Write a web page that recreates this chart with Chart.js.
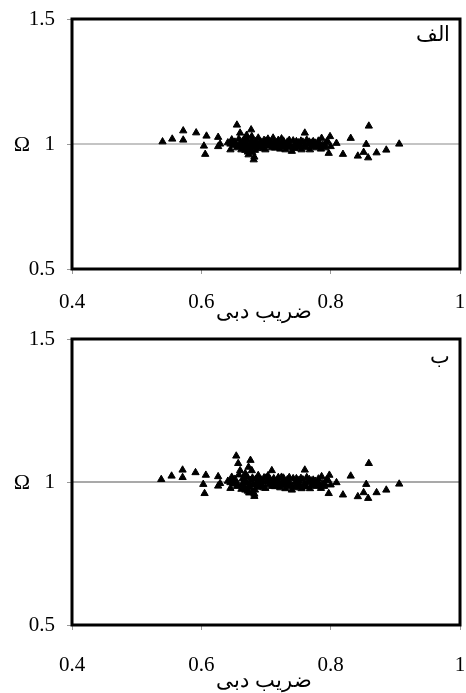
<!DOCTYPE html>
<html>
<head>
<meta charset="utf-8">
<script src="https://cdn.jsdelivr.net/npm/chart.js@4.4.1/dist/chart.umd.min.js"></script>
<style>
  html, body { margin: 0; padding: 0; background: #fff; }
  #wrap { position: relative; width: 466px; height: 693px; overflow: hidden; }
  .box { position: absolute; left: 0; width: 466px; }
</style>
</head>
<body>
<div id="wrap">
  <div class="box" style="top:0;height:330px"><canvas id="chartA" width="466" height="330"></canvas></div>
  <div class="box" style="top:330px;height:363px"><canvas id="chartB" width="466" height="363"></canvas></div>
</div>
<script>
const $ = (id) => document.getElementById(id);

// axis ranges / ticks
const xTicks = [0.4, 0.6, 0.8, 1];
const yTicks = [0.5, 1, 1.5];
const refLineX = [0.4, 1];
const refLineY = 1;

const xTitle = "ضریب دبی";
const yTitle = "Ω";

// panel A (الف)
const xA = [0.540, 0.555, 0.572, 0.572, 0.592, 0.608, 0.604, 0.606, 0.626, 0.626, 0.629,
  0.641, 0.645, 0.645, 0.647, 0.650, 0.652, 0.655, 0.655, 0.657, 0.660, 0.660, 0.662, 0.664, 0.665,
  0.666, 0.668, 0.668, 0.670, 0.670, 0.672, 0.673, 0.675, 0.675, 0.676, 0.677, 0.678, 0.679, 0.680,
  0.681, 0.682, 0.684, 0.685, 0.686, 0.688, 0.690, 0.692, 0.694, 0.695, 0.697, 0.699, 0.701, 0.704,
  0.706, 0.709, 0.711, 0.713, 0.714, 0.717, 0.720, 0.722, 0.724, 0.726, 0.728, 0.730, 0.733, 0.735,
  0.738, 0.740, 0.742, 0.745, 0.748, 0.750, 0.752, 0.755, 0.757, 0.760, 0.761, 0.763, 0.765, 0.768,
  0.770, 0.773, 0.775, 0.778, 0.780, 0.783, 0.786, 0.788, 0.790, 0.793, 0.797, 0.799, 0.800, 0.809,
  0.819, 0.831, 0.842, 0.851, 0.855, 0.858, 0.859, 0.871, 0.886, 0.906,
  0.648, 0.653, 0.658, 0.663, 0.667, 0.671, 0.674, 0.679, 0.683, 0.687, 0.691, 0.696, 0.700, 0.703,
  0.708, 0.712, 0.716, 0.719, 0.723, 0.727, 0.731, 0.736, 0.739, 0.744, 0.747, 0.751, 0.754, 0.759,
  0.762, 0.767, 0.771, 0.776, 0.781, 0.785, 0.791, 0.795];
const yA = [1.009, 1.020, 1.053, 1.016, 1.045, 1.032, 0.992, 0.959, 1.027, 0.990, 1.000,
  1.005, 0.977, 1.000, 1.017, 0.995, 1.008, 1.076, 0.985, 0.990, 1.044, 1.003, 0.977, 1.012, 1.000,
  0.985, 1.024, 0.975, 0.996, 1.035, 0.968, 0.957, 0.977, 0.990, 1.006, 1.057, 1.030, 0.965, 0.990,
  0.937, 0.948, 1.010, 0.995, 0.982, 1.024, 0.998, 1.008, 0.988, 1.000, 1.015, 0.977, 1.002, 0.992,
  1.010, 0.985, 1.024, 0.998, 0.984, 1.006, 0.993, 0.980, 1.021, 1.002, 0.990, 0.977, 1.008, 0.996,
  0.985, 0.971, 1.013, 0.999, 0.988, 1.005, 0.994, 0.977, 1.008, 1.044, 0.990, 1.016, 0.998, 0.977,
  1.004, 1.010, 0.992, 0.985, 1.000, 0.990, 1.023, 0.995, 0.985, 1.005, 0.963, 1.030, 0.990, 1.003,
  0.959, 1.023, 0.952, 0.967, 0.999, 0.945, 1.072, 0.965, 0.976, 1.000,
  1.010, 0.998, 1.020, 0.992, 1.008, 1.015, 0.985, 1.012, 0.975, 1.004, 0.990, 0.982, 1.012, 1.020,
  0.996, 1.010, 0.988, 1.015, 0.997, 1.012, 0.992, 1.015, 0.990, 0.982, 1.010, 0.985, 1.012, 0.995,
  0.985, 1.008, 0.990, 1.004, 1.012, 0.980, 0.995, 1.012];

// panel B (ب)
const xB = [0.538, 0.554, 0.571, 0.571, 0.591, 0.607, 0.603, 0.605, 0.626, 0.626, 0.629,
  0.641, 0.645, 0.645, 0.647, 0.650, 0.652, 0.654, 0.655, 0.657, 0.657, 0.660, 0.662, 0.664, 0.665,
  0.666, 0.668, 0.668, 0.670, 0.673, 0.672, 0.674, 0.675, 0.675, 0.676, 0.676, 0.678, 0.679, 0.680,
  0.682, 0.682, 0.684, 0.685, 0.686, 0.688, 0.690, 0.692, 0.694, 0.695, 0.697, 0.699, 0.701, 0.704,
  0.706, 0.709, 0.709, 0.713, 0.714, 0.717, 0.720, 0.722, 0.724, 0.726, 0.728, 0.730, 0.733, 0.735,
  0.738, 0.740, 0.742, 0.745, 0.748, 0.750, 0.752, 0.755, 0.757, 0.760, 0.761, 0.763, 0.765, 0.768,
  0.770, 0.773, 0.775, 0.778, 0.780, 0.783, 0.786, 0.788, 0.790, 0.793, 0.797, 0.798, 0.800, 0.809,
  0.819, 0.831, 0.842, 0.851, 0.855, 0.858, 0.859, 0.871, 0.886, 0.906,
  0.648, 0.653, 0.658, 0.663, 0.667, 0.671, 0.674, 0.679, 0.683, 0.687, 0.691, 0.696, 0.700, 0.703,
  0.708, 0.712, 0.716, 0.719, 0.723, 0.727, 0.731, 0.736, 0.739, 0.744, 0.747, 0.751, 0.754, 0.759,
  0.762, 0.767, 0.771, 0.776, 0.781, 0.785, 0.791, 0.795];
const yB = [1.009, 1.021, 1.042, 1.016, 1.033, 1.024, 0.992, 0.960, 1.019, 0.986, 0.995,
  1.003, 0.978, 0.998, 1.017, 0.993, 1.010, 1.091, 0.985, 1.065, 0.990, 1.040, 0.975, 1.012, 0.998,
  0.985, 1.030, 0.972, 0.996, 1.052, 0.968, 0.962, 0.980, 0.990, 1.006, 1.076, 1.040, 0.965, 0.990,
  0.958, 0.950, 1.010, 0.994, 0.982, 1.023, 0.998, 1.008, 0.988, 1.000, 1.015, 0.978, 1.002, 0.992,
  1.010, 0.985, 1.040, 0.998, 0.984, 1.006, 0.993, 0.980, 1.017, 1.002, 0.990, 0.977, 1.008, 0.996,
  0.985, 0.972, 1.012, 0.999, 0.988, 1.005, 0.994, 0.977, 1.008, 1.042, 0.990, 1.016, 0.998, 0.977,
  1.004, 1.007, 0.992, 0.985, 1.000, 0.990, 1.019, 0.995, 0.985, 1.005, 0.960, 1.024, 0.990, 0.998,
  0.955, 1.021, 0.949, 0.963, 0.992, 0.943, 1.065, 0.963, 0.972, 0.993,
  1.012, 0.996, 1.025, 0.990, 1.010, 1.018, 0.983, 1.014, 0.972, 1.003, 0.988, 0.980, 1.014, 1.022,
  0.994, 1.012, 0.986, 1.016, 0.995, 1.014, 0.990, 1.016, 0.988, 0.980, 1.012, 0.983, 1.013, 0.993,
  0.983, 1.009, 0.988, 1.003, 1.011, 0.978, 0.993, 1.010];

const SERIF = "'Liberation Serif', 'Times New Roman', 'DejaVu Serif', serif";

const pts = (xs, ys) => xs.map((x, i) => ({ x, y: ys[i] }));
const fmt = (v) => String(Number(v.toFixed(1)));

// frame + texts drawn over the chart area
const decor = {
  id: "decor",
  afterDraw(chart, args, opts) {
    const { ctx, chartArea: a } = chart;
    ctx.save();
    ctx.strokeStyle = "#000";
    ctx.lineWidth = 3;
    ctx.strokeRect(a.left, a.top, a.right - a.left, a.bottom - a.top);

    ctx.fillStyle = "#000";
    ctx.textBaseline = "middle";

    // y title, horizontal, left of the "1" label
    ctx.font = "22px " + SERIF;
    ctx.textAlign = "center";
    const yMid = chart.scales.y.getPixelForValue(refLineY);
    ctx.fillText(yTitle, 22, yMid + 1);

    // x title
    ctx.font = "21px " + SERIF;
    ctx.fillText(xTitle, 264, a.bottom + opts.titleGap);

    // panel letter
    ctx.font = "21px " + SERIF;
    ctx.textAlign = "right";
    ctx.fillText(opts.panel, a.right - 10, a.top + opts.panelGap);
    ctx.restore();
  },
};

function makeChart(id, xs, ys, o) {
  return new Chart($(id).getContext("2d"), {
    type: "scatter",
    data: {
      datasets: [
        {
          type: "line",
          data: refLineX.map((x) => ({ x, y: refLineY })),
          borderColor: o.lineColor,
          borderWidth: o.lineWidth,
          pointRadius: 0,
          order: 2,
        },
        {
          data: pts(xs, ys),
          pointStyle: "triangle",
          pointRadius: 4.2,
          backgroundColor: "#000",
          borderColor: "#000",
          borderWidth: 1,
          order: 1,
        },
      ],
    },
    options: {
      responsive: false,
      animation: false,
      events: [],
      layout: { padding: { top: o.top, right: 6, left: 0, bottom: 0 } },
      plugins: {
        legend: { display: false },
        tooltip: { enabled: false },
        decor: { panel: o.panel, titleGap: o.titleGap, panelGap: o.panelGap },
      },
      scales: {
        x: {
          type: "linear",
          min: xTicks[0],
          max: xTicks[xTicks.length - 1],
          afterBuildTicks: (s) => { s.ticks = xTicks.map((v) => ({ value: v })); },
          ticks: {
            callback: fmt,
            color: "#000",
            font: { family: SERIF, size: 21 },
            padding: o.xPad,
            maxRotation: 0,
            autoSkip: false,
          },
          grid: { drawOnChartArea: false, drawTicks: true, tickLength: 5, color: "#999" },
          border: { display: false },
          afterFit: (s) => { s.height = o.xHeight; s.paddingLeft = 0; s.paddingRight = 0; },
        },
        y: {
          type: "linear",
          min: yTicks[0],
          max: yTicks[yTicks.length - 1],
          afterBuildTicks: (s) => { s.ticks = yTicks.map((v) => ({ value: v })); },
          ticks: {
            callback: fmt,
            color: "#000",
            font: { family: SERIF, size: 21 },
            padding: 12,
          },
          grid: { drawOnChartArea: false, drawTicks: true, tickLength: 5, color: "#999" },
          border: { display: false },
          afterFit: (s) => { s.width = 72; s.paddingTop = 0; s.paddingBottom = 0; },
        },
      },
    },
    plugins: [decor],
  });
}

makeChart("chartA", xA, yA, {
  top: 19, xHeight: 61, xPad: 16, titleGap: 43, panelGap: 16,
  panel: "الف", lineColor: "#b0b0b0", lineWidth: 1.5,
});
makeChart("chartB", xB, yB, {
  top: 9, xHeight: 68, xPad: 23, titleGap: 56, panelGap: 18,
  panel: "ب", lineColor: "#555", lineWidth: 1.2,
});
</script>
</body>
</html>
